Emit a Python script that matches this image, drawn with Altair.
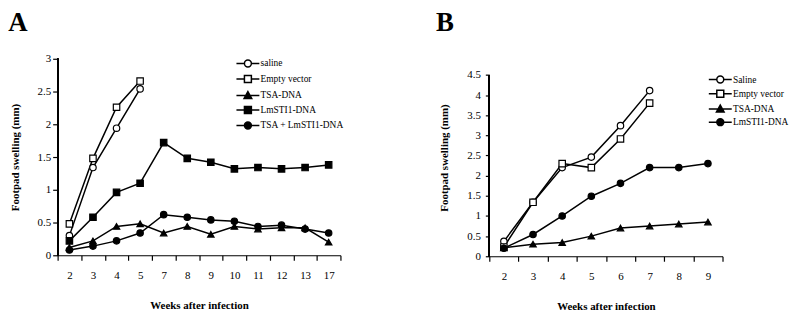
import altair as alt
import pandas as pd

# ---------------- Panel A data ----------------
weeks_a = [2, 3, 4, 5, 7, 8, 9, 10, 11, 12, 13, 17]
series_a = ["saline", "Empty vector", "TSA-DNA", "LmSTI1-DNA", "TSA + LmSTI1-DNA"]
saline_a = [0.30, 1.34, 1.94, 2.54]
empty_a = [0.48, 1.48, 2.26, 2.66]
tsa_a = [0.12, 0.22, 0.44, 0.48, 0.34, 0.44, 0.32, 0.44, 0.40, 0.42, 0.42, 0.20]
lmsti1_a = [0.22, 0.58, 0.96, 1.10, 1.72, 1.48, 1.42, 1.32, 1.34, 1.32, 1.34, 1.38]
combo_a = [0.08, 0.14, 0.22, 0.34, 0.62, 0.58, 0.54, 0.52, 0.44, 0.46, 0.40, 0.34]

# ---------------- Panel B data ----------------
weeks_b = [2, 3, 4, 5, 6, 7, 8, 9]
series_b = ["Saline", "Empty vector", "TSA-DNA", "LmSTI1-DNA"]
saline_b = [0.37, 1.34, 2.20, 2.46, 3.24, 4.11]
empty_b = [0.23, 1.34, 2.30, 2.20, 2.91, 3.80]
tsa_b = [0.21, 0.30, 0.34, 0.50, 0.70, 0.75, 0.80, 0.85]
lmsti1_b = [0.20, 0.54, 1.00, 1.49, 1.81, 2.20, 2.20, 2.30]

shapes_a = ["circle", "square", "triangle-up", "square", "circle"]
fills_a = ["white", "white", "black", "black", "black"]
shapes_b = ["circle", "square", "triangle-up", "circle"]
fills_b = ["white", "white", "black", "black"]


def long_df(weeks, names, values):
    rows = []
    for name, vals in zip(names, values):
        for w, v in zip(weeks, vals):
            rows.append({"week": str(w), "series": name, "value": v})
    return pd.DataFrame(rows)


df_a = long_df(weeks_a, series_a, [saline_a, empty_a, tsa_a, lmsti1_a, combo_a])
df_b = long_df(weeks_b, series_b, [saline_b, empty_b, tsa_b, lmsti1_b])

SERIF = "Liberation Serif"

# legend glyphs: a short line with the marker in its middle
PATH = {
    "circle": "M-3.3,0H-1M1,0H3.3M-1,0A1,1,0,1,0,1,0A1,1,0,1,0,-1,0Z",
    "square": "M-3.3,0H-1M1,0H3.3M-1,-1H1V1H-1Z",
    "triangle-up": "M-3.3,0H-0.6M0.6,0H3.3M0,-1.1L1.1,0.85H-1.1Z",
}


def panel(df, weeks, names, shapes, fills, ytop, ymax, w, h, title, title_offset,
          title_dx, legend_x, legend_y, row_pad, ylab_pad, ytick):
    xenc = alt.X(
        "week:O",
        sort=[str(x) for x in weeks],
        scale=alt.Scale(type="band", paddingInner=0, paddingOuter=0),
        bandPosition=0.5,
        axis=alt.Axis(
            title="Weeks after infection",
            labelAngle=0,
            tickBand="extent",
            tickSize=5,
            labelPadding=9,
            titlePadding=20,
        ),
    )
    yaxis = alt.Axis(
        title="Footpad swelling (mm)",
        values=[i * 0.5 for i in range(int(ytop * 2) + 1)],
        format="~g",
        tickSize=ytick,
        labelPadding=ylab_pad,
        titlePadding=17,
        domain=False,
    )
    yscale = alt.Scale(domain=[0, ymax], nice=False)
    yenc = alt.Y("value:Q", scale=yscale, axis=yaxis)
    yaxis_line = alt.Chart(df).mark_rule(color="black", strokeWidth=1.2).encode(
        x=alt.value(0),
        y=alt.YDatum(0, type="quantitative", scale=yscale, axis=yaxis),
        y2=alt.Y2Datum(ytop),
    )
    lines = alt.Chart(df).mark_line(color="black", strokeWidth=1.5).encode(
        x=xenc, y=yenc, detail="series:N"
    )
    pts = alt.Chart(df).mark_point(
        filled=True, stroke="black", strokeWidth=1.2, size=42, opacity=1
    ).encode(
        x=xenc,
        y=yenc,
        shape=alt.Shape("series:N", scale=alt.Scale(domain=names, range=shapes), legend=None),
        fill=alt.Fill("series:N", scale=alt.Scale(domain=names, range=fills), legend=None),
    )
    legend = alt.Legend(
        title=None,
        orient="none",
        legendX=legend_x,
        legendY=legend_y,
        labelFont=SERIF,
        labelFontSize=9.5,
        labelFontWeight="normal",
        labelColor="black",
        labelOffset=8,
        rowPadding=row_pad,
        padding=0,
        symbolSize=49,
        symbolOpacity=1,
        symbolStrokeColor="black",
        symbolStrokeWidth=1.5,
    )
    leg = alt.Chart(df).mark_point(
        filled=True, stroke="black", strokeWidth=1.5, size=49, opacity=0
    ).encode(
        x=xenc,
        y=yenc,
        shape=alt.Shape("series:N", scale=alt.Scale(domain=names, range=[PATH[s] for s in shapes]), legend=legend),
        fill=alt.Fill("series:N", scale=alt.Scale(domain=names, range=fills), legend=legend),
        stroke=alt.Stroke("series:N", scale=alt.Scale(domain=names, range=["black"] * len(names)), legend=legend),
    )
    return alt.layer(lines, yaxis_line, pts, leg).resolve_scale(
        shape="independent", fill="independent", stroke="independent"
    ).properties(
        width=w,
        height=h,
        title=alt.Title(
            title,
            anchor="start",
            frame="bounds",
            font=SERIF,
            fontSize=27,
            fontWeight="bold",
            color="black",
            offset=title_offset,
            dx=title_dx,
        ),
    )


chart_a = panel(df_a, weeks_a, series_a, shapes_a, fills_a, 3, 3, 285, 198, "A", 16, -1,
                187, 0, 1.6, 2, 5)
chart_b = panel(df_b, weeks_b, series_b, shapes_b, fills_b, 4.5, 4.9, 235, 199, "B", 22, -3,
                228, 16.2, 0.3, 5, 4)

chart = (
    alt.hconcat(chart_a, chart_b, spacing=92)
    .resolve_scale(shape="independent", fill="independent", stroke="independent")
    .resolve_legend(shape="independent", fill="independent", stroke="independent")
    .configure_view(stroke=None)
    .configure_axis(
        domainColor="black",
        tickColor="black",
        domainWidth=1.2,
        tickWidth=1.2,
        grid=False,
        labelFont=SERIF,
        labelFontSize=11,
        labelColor="black",
        titleFont=SERIF,
        titleFontSize=11,
        titleFontWeight="bold",
        titleColor="black",
    )
    .properties(background="white", padding=0)
)

chart.save("out.html", embed_options={"renderer": "svg", "actions": False})
